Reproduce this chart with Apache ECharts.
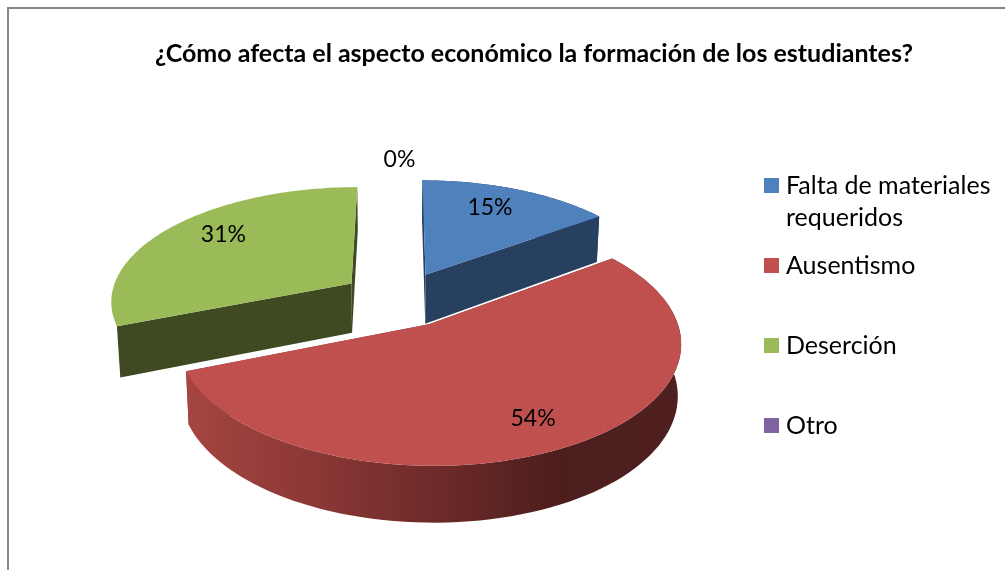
<!DOCTYPE html>
<html><head><meta charset="utf-8">
<style>html,body{margin:0;padding:0;background:#fff}#c{width:1005px;height:570px}</style>
<script src="https://cdn.jsdelivr.net/npm/echarts@6/dist/echarts.min.js"></script>
</head><body><div id="c"></div>
<script>
const titleText = '¿Cómo afecta el aspecto económico la formación de los estudiantes?';
const categories = ['Falta de materiales', 'Ausentismo', 'Deserción', 'Otro'];
const legendContinuation = 'requeridos';
const shares = [15, 54, 31, 0];

const topColors = ['#4F81BD', '#C0504D', '#9BBB59', '#8064A2'];
const wallColors = ['#28405F', '#6F2A29', '#3F4A22', '#403152'];
const drawOrder = [2, 3, 1, 4];
const labelRadius = [0.72, 0.82, 0.72, 1.2];
const labelNudge = [[-4, -4], [-9, -3], [3, -7], [0, -2]];
const showOuterWall = [true, true, false, false];
const FONT = 'Lato, Carlito, Calibri, sans-serif';

// perspective layout of the disc
const CX = 399.5, CY = 299, RX = 241.5, RY = 114, PERSP = 0.14, EXPLODE = 0.245, DEPTH = 50, SHRINK = 0.012;
const total = shares.reduce((a, b) => a + b, 0);
const rad = d => d * Math.PI / 180;

function project(px, py, down) {
  const w = 1 - PERSP * py;
  let x = CX + RX * px / w, y = CY + RY * py / w;
  if (down) { x = CX + (x - CX) * (1 - SHRINK); y += DEPTH * (1 - 0.8 * (w - 1)); }
  return [x, y];
}
function makeSlice(idx) {
  const before = shares.slice(0, idx).reduce((a, b) => a + b, 0);
  const a0 = before / total * 360, a1 = (before + shares[idx]) / total * 360, mid = (a0 + a1) / 2;
  const ox = EXPLODE * Math.sin(rad(mid)), oy = -EXPLODE * Math.cos(rad(mid));
  const at = (deg, r, down) => project(ox + r * Math.sin(rad(deg)), oy - r * Math.cos(rad(deg)), down);
  return { a0, a1, mid, at };
}
function renderSlice(idx) {
  return function () {
    const s = makeSlice(idx);
    const children = [];
    const pct = Math.round(shares[idx] / total * 100) + '%';
    if (shares[idx] > 0) {
      const top = [], bot = [];
      for (let i = 0; i <= 90; i++) {
        const d = s.a0 + (s.a1 - s.a0) * i / 90;
        top.push(s.at(d, 1, false));
        bot.push(s.at(d, 1, true));
      }
      const wallFill = idx === 1 ? {
        type: 'linear', x: 187, y: 0, x2: 681, y2: 0, global: true,
        colorStops: [
          { offset: 0, color: '#A54542' }, { offset: 0.25, color: '#8C3836' },
          { offset: 0.52, color: '#6B2A28' }, { offset: 0.75, color: '#4C1E1D' },
          { offset: 1, color: '#4E1F1E' }]
      } : wallColors[idx];
      const poly = (points, fill) => ({ type: 'polygon', silent: true, shape: { points }, style: { fill } });
      const ap = s.at(0, 0, false), apb = s.at(0, 0, true);
      children.push(poly([ap, top[0], bot[0], apb], wallFill));
      children.push(poly([ap, top[90], bot[90], apb], wallFill));
      if (showOuterWall[idx]) children.push(poly(top.concat(bot.slice().reverse()), wallFill));
      children.push(poly([ap].concat(top), topColors[idx]));
    }
    const lp = s.at(s.mid, labelRadius[idx], false);
    children.push({
      type: 'text', silent: true, z2: 100,
      style: { text: pct, x: lp[0] + labelNudge[idx][0], y: lp[1] + labelNudge[idx][1], fill: '#000', fontFamily: FONT, fontSize: 23, align: 'center', verticalAlign: 'middle' }
    });
    return { type: 'group', children };
  };
}

const chart = echarts.init(document.getElementById('c'), null, { renderer: 'canvas' });
chart.setOption({
  animation: false,
  backgroundColor: '#fff',
  title: {
    text: titleText, left: 529, top: 36, textAlign: 'center',
    textStyle: { fontFamily: FONT, fontWeight: 'bold', fontSize: 25, color: '#000' }
  },
  legend: {
    orient: 'vertical', left: 764, top: 169, padding: 0, icon: 'rect', itemWidth: 15, itemHeight: 15, itemGap: 47,
    selectedMode: false, data: categories,
    textStyle: { fontFamily: FONT, fontSize: 25, color: '#000', lineHeight: 33, padding: [0, 0, 0, 2] }
  },
  graphic: [
    { type: 'rect', shape: { x: 8, y: 8, width: 1100, height: 700 }, style: { fill: 'none', stroke: '#868686', lineWidth: 2 }, z: -1, silent: true },
    { type: 'text', left: 786, top: 205, silent: true, style: { text: legendContinuation, fontFamily: FONT, fontSize: 25, fill: '#000' } }
  ],
  series: categories.map((name, idx) => ({
    type: 'custom', name, coordinateSystem: 'none', z: drawOrder[idx], silent: true,
    itemStyle: { color: topColors[idx] },
    data: [shares[idx]],
    renderItem: renderSlice(idx)
  }))
});
</script></body></html>
